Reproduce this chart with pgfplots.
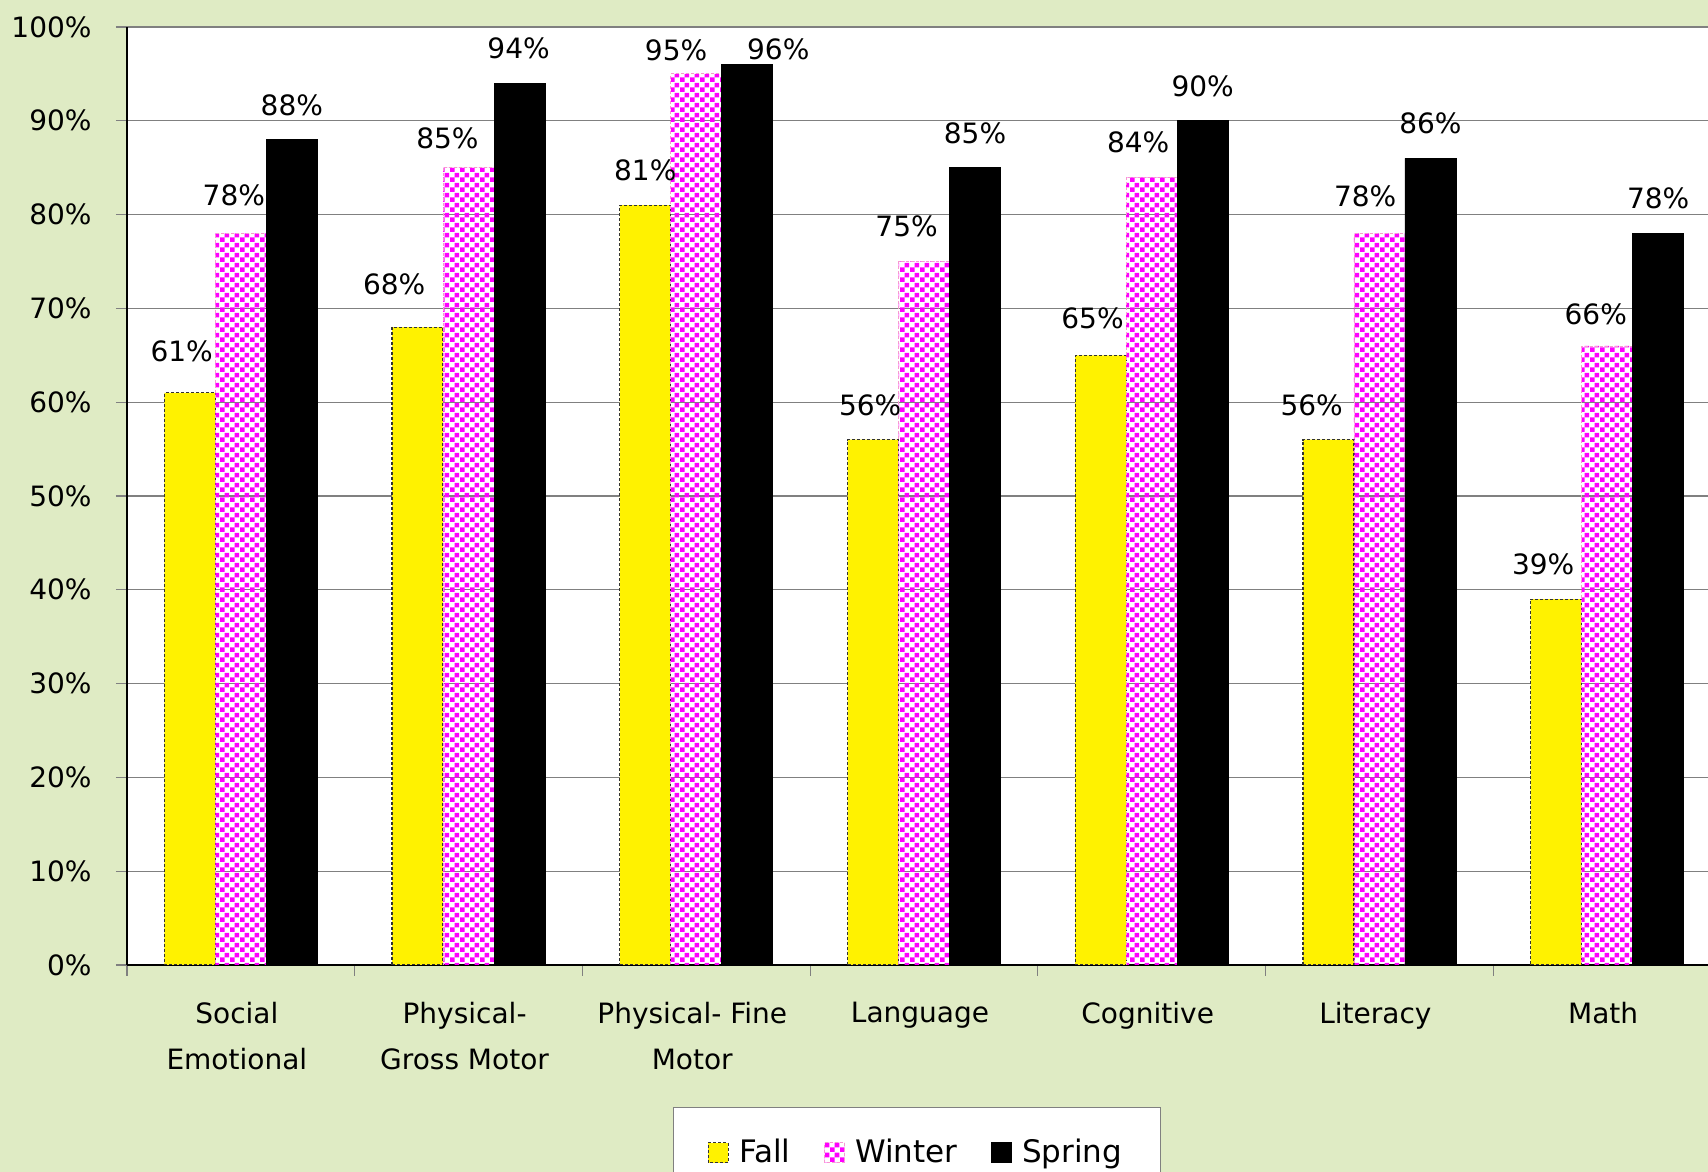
\documentclass[border=0pt]{standalone}
\usepackage{fontspec}
\setmainfont{DejaVu Sans}
\usepackage{pgfplots}
\pgfplotsset{compat=1.18}
\usepackage{pgfplotstable}
\usetikzlibrary{patterns,patterns.meta}

\definecolor{bggreen}{RGB}{223,235,196}
\definecolor{gridgray}{RGB}{128,128,128}

% magenta checkerboard used for the Winter bars
\tikzdeclarepattern{
  name=checks,
  type=uncolored,
  bottom left={(0pt,0pt)},
  top right={(5pt,5pt)},
  tile size={(5pt,5pt)},
  code={
    \fill (0pt,0pt) rectangle (2.5pt,2.5pt);
    \fill (2.5pt,2.5pt) rectangle (5pt,5pt);
  }
}

% x = category, y = percent, dx/dy = label nudge (pt)
\pgfplotstableread{
x y dx dy
0 61 -4.1 3.3
1 68 -11.7 4.1
2 81 0 0
3 56 -1.4 0
4 65 -4.1 1.1
5 56 -8.4 0
6 39 -6.5 0
}\fall
\pgfplotstableread{
x y dx dy
0 78 -3.5 1.6
1 85 -10.6 -2.7
2 95 -10.1 -5.4
3 75 -8.7 0
4 84 -6.8 0
5 78 -7.1 1.1
6 66 -5.7 -1.6
}\winter
\pgfplotstableread{
x y dx dy
0 88 0 -0.5
1 94 -0.5 0
2 96 15.5 -9.8
3 85 0 0
4 90 0 0
5 86 0 0
6 78 0 0
}\spring

\begin{document}
\begin{tikzpicture}[font=\fontsize{14}{17}\selectfont]
\useasboundingbox (0,0) rectangle (854pt,586pt);
\fill[bggreen] (0,0) rectangle (854pt,586pt);
\begin{axis}[
    at={(63.5pt,103.5pt)}, anchor=south west,
    scale only axis,
    width=797pt, height=469pt,
    ybar=0pt, bar width=25.5pt,
    xmin=-0.5, xmax=6.5,
    ymin=0, ymax=100,
    axis x line*=bottom, axis y line*=left,
    axis line style={black, line width=0.6pt},
    axis background/.style={fill=white},
    ymajorgrids=true,
    grid style={gridgray, line width=0.6pt},
    tick align=outside, major tick length=5.5pt,
    tick style={gridgray, line width=0.6pt},
    ytick={0,10,20,30,40,50,60,70,80,90,100},
    yticklabels={0\%,10\%,20\%,30\%,40\%,50\%,60\%,70\%,80\%,90\%,100\%},
    yticklabel style={font=\fontsize{14}{17}\selectfont, xshift=-8.7pt},
    xtick={-0.5,0.5,1.5,2.5,3.5,4.5,5.5,6.5},
    x tick label as interval,
    xticklabels={{Social\\Emotional},{Physical-\\Gross Motor},{Physical- Fine\\Motor},Language,Cognitive,Literacy,Math},
    xticklabel style={align=center, font=\fontsize{14}{23}\selectfont, anchor=north,
        yshift=-9.5pt, xshift=-2pt},
    /pgf/number format/assume math mode=true,
    nodes near coords={\pgfmathprintnumber{\pgfplotspointmeta}\%},
    visualization depends on={\thisrow{dx} \as \dx},
    visualization depends on={\thisrow{dy} \as \dy},
    nodes near coords style={anchor=center, inner sep=0pt, font=\fontsize{14}{17}\selectfont,
        xshift={\dx*1pt}, yshift={(17.4+\dy)*1pt}},
    legend style={at={(0.4956,-0.1514)}, anchor=north, legend columns=3,
        draw=gray, fill=white, inner xsep=17pt, inner ysep=14pt,
        font=\fontsize{15.5}{18}\selectfont,
        /tikz/every odd column/.append style={column sep=3pt},
        /tikz/every even column/.append style={column sep=15pt}},
    legend image code/.code={\draw[#1] (0pt,-5pt) rectangle (10pt,5pt);},
]

\addplot[fill=yellow, draw=black!80, line width=0.6pt, dash pattern=on 1.5pt off 1pt]
    table[x=x, y=y] {\fall};
\addlegendentry{Fall}

\addplot[pattern=checks, pattern color=magenta, draw=magenta!40, line width=0.4pt, dash pattern=on 1.5pt off 1pt]
    table[x=x, y=y] {\winter};
\addlegendentry{Winter}

\addplot[fill=black, draw=black]
    table[x=x, y=y] {\spring};
\addlegendentry{Spring}

\end{axis}
\end{tikzpicture}
\end{document}
